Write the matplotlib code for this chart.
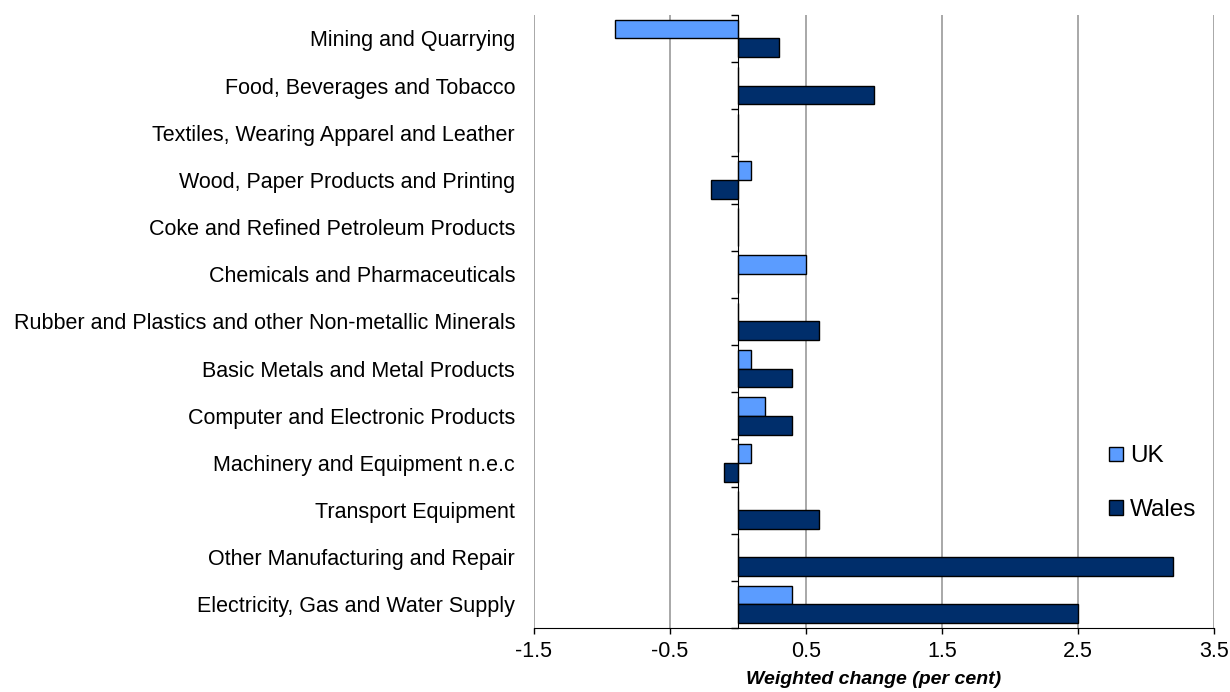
import numpy as np
import matplotlib
matplotlib.use('Agg')
import matplotlib.pyplot as plt
from matplotlib.patches import Patch

# Dane (od góry do dołu)
kategorie = [
    'Mining and Quarrying',
    'Food, Beverages and Tobacco',
    'Textiles, Wearing Apparel and Leather',
    'Wood, Paper Products and Printing',
    'Coke and Refined Petroleum Products',
    'Chemicals and Pharmaceuticals',
    'Rubber and Plastics and other Non-metallic Minerals',
    'Basic Metals and Metal Products',
    'Computer and Electronic Products',
    'Machinery and Equipment n.e.c',
    'Transport Equipment',
    'Other Manufacturing and Repair',
    'Electricity, Gas and Water Supply',
]
uk = [-0.9, 0.0, 0.0, 0.1, 0.0, 0.5, 0.0, 0.1, 0.2, 0.1, 0.0, 0.0, 0.4]
wales = [0.3, 1.0, 0.0, -0.2, 0.0, 0.0, 0.6, 0.4, 0.4, -0.1, 0.6, 3.2, 2.5]
x_ticks = [-1.5, -0.5, 0.5, 1.5, 2.5, 3.5]

kolor_uk = '#5B9CFF'
kolor_wales = '#002E6B'

plt.rcParams['font.family'] = ['Liberation Sans', 'DejaVu Sans']

fig = plt.figure(figsize=(12.3, 6.92), dpi=100)
ax = fig.add_axes([0.434, 0.0925, 0.553, 0.886])

n = len(kategorie)
y = np.arange(n)[::-1]
h = 0.4
ax.barh(y + h / 2, uk, height=h, color=kolor_uk, edgecolor='black', linewidth=1, zorder=3)
ax.barh(y - h / 2, wales, height=h, color=kolor_wales, edgecolor='black', linewidth=1, zorder=3)

ax.set_xlim(-1.5, 3.5)
ax.set_ylim(-0.5, n - 0.5)
ax.set_xticks(x_ticks)
ax.set_xticklabels([f'{t:.1f}' for t in x_ticks], fontsize=15.5)
ax.xaxis.grid(True, color='#999999', linewidth=1.2, zorder=0)
ax.tick_params(axis='x', direction='out', length=4, width=1, pad=5.5)

# oś Y w zerze z kreskami na granicach kategorii
ax.spines['left'].set_position(('data', 0))
ax.spines['left'].set_zorder(4)
ax.spines['top'].set_visible(False)
ax.spines['right'].set_visible(False)
ax.set_yticks(np.arange(n + 1) - 0.5)
ax.set_yticklabels([])
ax.tick_params(axis='y', direction='out', length=5, width=1)

# etykiety kategorii po lewej stronie
sec = ax.secondary_yaxis(0.0)
sec.set_yticks(y)
sec.set_yticklabels(kategorie, fontsize=15.5)
sec.tick_params(length=0, pad=13.5)
sec.spines['left'].set_visible(False)

ax.set_xlabel('Weighted change (per cent)', fontsize=14, fontweight='bold',
              fontstyle='italic', labelpad=6)

uchwyty = [Patch(facecolor=kolor_uk, edgecolor='black', label='UK'),
           Patch(facecolor=kolor_wales, edgecolor='black', label='Wales')]
ax.legend(handles=uchwyty, loc='center left', bbox_to_anchor=(0.814, 0.236),
          frameon=False, fontsize=17.5, handlelength=0.55, handleheight=0.55,
          handletextpad=0.3, labelspacing=1.3)

fig.savefig('out.png', dpi=100)
